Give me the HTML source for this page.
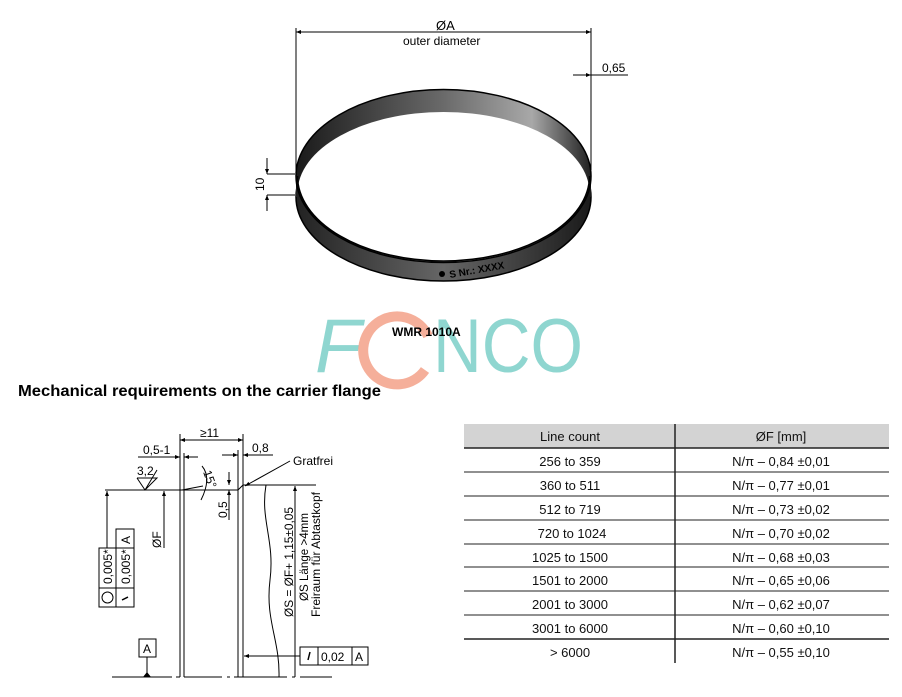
<!DOCTYPE html>
<html><head><meta charset="utf-8"><style>
body{margin:0;background:#fff;width:902px;height:692px;overflow:hidden;font-family:"Liberation Sans",sans-serif}
</style></head><body>
<svg width="902" height="692" viewBox="0 0 902 692" xmlns="http://www.w3.org/2000/svg" font-family="Liberation Sans, sans-serif">
<defs>
<linearGradient id="g" x1="0" x2="1" y1="0" y2="0">
<stop offset="0" stop-color="#1a1a1a"/><stop offset="0.5" stop-color="#6a6a6a"/><stop offset="0.8" stop-color="#a8a8a8"/><stop offset="1" stop-color="#202020"/></linearGradient>
<linearGradient id="g2" x1="0" x2="1" y1="0" y2="0">
<stop offset="0" stop-color="#222"/><stop offset="0.5" stop-color="#666"/><stop offset="1" stop-color="#1a1a1a"/></linearGradient>
<clipPath id="ct"><ellipse cx="443.5" cy="176" rx="146" ry="85"/></clipPath>
<marker id="a" viewBox="0 0 10 10" refX="10" refY="5" markerWidth="7" markerHeight="5" orient="auto-start-reverse"><path d="M0,1 L10,5 L0,9 z" fill="#000"/></marker>
</defs>
<!-- ring -->
<ellipse cx="443.5" cy="197" rx="147.5" ry="84" fill="url(#g2)" stroke="#000" stroke-width="1.5"/>
<rect x="296" y="176" width="295" height="21" fill="url(#g2)"/>
<ellipse cx="443.5" cy="176" rx="147.5" ry="86.5" fill="url(#g)" stroke="#000" stroke-width="1.5"/>
<ellipse cx="443.5" cy="193" rx="146" ry="81" fill="#fff" clip-path="url(#ct)"/>
<path d="M297.5,176 A146,85 0 0 0 589.5,176" fill="none" stroke="#000" stroke-width="1.5"/>
<circle cx="442" cy="274" r="3" fill="#000"/>
<text x="450" y="278" font-size="10" font-weight="bold" fill="#000" transform="rotate(-10 450 278)">S Nr.: XXXX</text>
<!-- ring dims -->
<g stroke="#000" stroke-width="1" fill="none">
<line x1="296" y1="28" x2="296" y2="178"/><line x1="591" y1="28" x2="591" y2="170"/>
<line x1="296" y1="32" x2="591" y2="32" marker-start="url(#a)" marker-end="url(#a)"/>
<line x1="573" y1="75" x2="591" y2="75" marker-end="url(#a)"/><line x1="591" y1="75" x2="628" y2="75"/>
<line x1="267" y1="174" x2="295" y2="174"/><line x1="267" y1="195" x2="295" y2="195"/>
<line x1="267" y1="158" x2="267" y2="174" marker-end="url(#a)"/><line x1="267" y1="211" x2="267" y2="195" marker-end="url(#a)"/>
</g>
<text x="436" y="30" font-size="13">ØA</text>
<text x="403" y="45" font-size="12">outer diameter</text>
<text x="602" y="72" font-size="12">0,65</text>
<text x="264" y="191" font-size="12" transform="rotate(-90 264 191)">10</text>
<!-- watermark -->
<g font-size="76" fill="#8fd6d0" font-family="Liberation Sans, sans-serif">
<text x="315" y="372" font-style="italic">F</text>
<text x="433" y="372" textLength="150" lengthAdjust="spacingAndGlyphs">NCO</text>
</g>
<path d="M428,336 A34,34 0 1 0 425,370" fill="none" stroke="#f4a68f" stroke-width="10" opacity="0.9"/>
<text x="392" y="336" font-size="12" font-weight="bold">WMR 1010A</text>
<text x="18" y="396" font-size="16" font-weight="bold" textLength="363" lengthAdjust="spacingAndGlyphs">Mechanical requirements on the carrier flange</text>
<!-- table -->
<rect x="464" y="424" width="425" height="24" fill="#d3d3d3"/>
<g stroke="#222" stroke-width="1">
<line x1="464" y1="448" x2="889" y2="448" stroke-width="1.5"/>
<line x1="464" y1="472" x2="889" y2="472"/><line x1="464" y1="496" x2="889" y2="496"/><line x1="464" y1="520" x2="889" y2="520"/><line x1="464" y1="544" x2="889" y2="544"/><line x1="464" y1="567" x2="889" y2="567"/><line x1="464" y1="591" x2="889" y2="591"/><line x1="464" y1="615" x2="889" y2="615"/><line x1="464" y1="639" x2="889" y2="639" stroke-width="1.5"/>
<line x1="675" y1="424" x2="675" y2="663" stroke-width="1.5"/>
</g>
<g font-size="13" text-anchor="middle" fill="#111">
<text x="570" y="441">Line count</text><text x="781" y="441">ØF [mm]</text>
<text x="570" y="466">256 to 359</text><text x="781" y="466">N/π – 0,84 ±0,01</text>
<text x="570" y="490">360 to 511</text><text x="781" y="490">N/π – 0,77 ±0,01</text>
<text x="570" y="514">512 to 719</text><text x="781" y="514">N/π – 0,73 ±0,02</text>
<text x="572" y="538">720 to 1024</text><text x="781" y="538">N/π – 0,70 ±0,02</text>
<text x="570" y="562">1025 to 1500</text><text x="781" y="562">N/π – 0,68 ±0,03</text>
<text x="570" y="585">1501 to 2000</text><text x="781" y="585">N/π – 0,65 ±0,06</text>
<text x="570" y="609">2001 to 3000</text><text x="781" y="609">N/π – 0,62 ±0,07</text>
<text x="570" y="633">3001 to 6000</text><text x="781" y="633">N/π – 0,60 ±0,10</text>
<text x="570" y="657">&gt; 6000</text><text x="781" y="657">N/π – 0,55 ±0,10</text>
</g>
<!-- flange drawing -->
<g stroke="#000" stroke-width="1" fill="none">
<line x1="180" y1="434" x2="180" y2="677"/><line x1="184" y1="453" x2="184" y2="677"/>
<line x1="238" y1="450" x2="238" y2="677"/><line x1="243" y1="434" x2="243" y2="677"/>
<line x1="180" y1="440" x2="243" y2="440" marker-start="url(#a)" marker-end="url(#a)"/>
<line x1="138" y1="457" x2="180" y2="457" marker-end="url(#a)"/><line x1="198" y1="457" x2="184" y2="457" marker-end="url(#a)"/>
<line x1="222" y1="455" x2="238" y2="455" marker-end="url(#a)"/><line x1="273" y1="455" x2="243" y2="455" marker-end="url(#a)"/>
<line x1="105" y1="490" x2="238" y2="490"/><line x1="182" y1="490" x2="203" y2="486"/>
<path d="M238,490 L243,485 L316,485"/>
<line x1="290" y1="461" x2="245" y2="486" marker-end="url(#a)"/>
<path d="M137,478 L157,478 L145,490 L137,478 M145,490 L157,470"/>
<path d="M202,466 Q212,478 201,500" />
<line x1="229" y1="472" x2="229" y2="485" marker-end="url(#a)"/><line x1="229" y1="520" x2="229" y2="490" marker-end="url(#a)"/>
<line x1="222" y1="490" x2="238" y2="490"/>
<path d="M266,485 C260,520 275,540 270,580 C265,620 280,640 279,677"/>
<line x1="295" y1="677" x2="295" y2="486" marker-end="url(#a)"/>
<line x1="164" y1="548" x2="164" y2="491" marker-end="url(#a)"/>
<line x1="107" y1="548" x2="107" y2="491" marker-end="url(#a)"/>
<rect x="99" y="548" width="35" height="59"/><rect x="116" y="529" width="18" height="19"/>
<line x1="116" y1="548" x2="116" y2="607"/><line x1="99" y1="588" x2="134" y2="588"/>
<circle cx="107.5" cy="597.5" r="5.5"/>
<line x1="122" y1="600" x2="128" y2="597" stroke-width="1.5"/>
<rect x="139" y="639" width="17" height="18"/><line x1="147" y1="657" x2="147" y2="677"/>
<path d="M112,677 H172 M176,677 H180 M184,677 H222 M227,677 H230 M234,677 H287 M292,677 H295 M300,677 H332"/>
<rect x="300" y="647" width="68" height="18"/><line x1="318" y1="647" x2="318" y2="665"/><line x1="352" y1="647" x2="352" y2="665"/>
<line x1="300" y1="656" x2="244" y2="656" marker-end="url(#a)"/>
<line x1="308" y1="660" x2="310" y2="652" stroke-width="1.5"/>
</g>
<path d="M143,677 L151,677 L147,672 z" fill="#000"/>
<g font-size="12" fill="#000">
<text x="200" y="437">≥11</text>
<text x="143" y="454">0,5-1</text>
<text x="252" y="452">0,8</text>
<text x="293" y="465">Gratfrei</text>
<text x="137" y="475">3,2</text>
<text x="203" y="472" transform="rotate(70 203 472)">15°</text>
<text x="227" y="518" transform="rotate(-90 227 518)">0,5</text>
<text x="161" y="548" transform="rotate(-90 161 548)">ØF</text>
<text x="293" y="617" transform="rotate(-90 293 617)" textLength="110" lengthAdjust="spacingAndGlyphs">ØS = ØF+ 1,15±0,05</text>
<text x="308" y="601" transform="rotate(-90 308 601)" textLength="88" lengthAdjust="spacingAndGlyphs">ØS Länge &gt;4mm</text>
<text x="320" y="617" transform="rotate(-90 320 617)" textLength="125" lengthAdjust="spacingAndGlyphs">Freiraum für Abtastkopf</text>
<text x="112" y="584" transform="rotate(-90 112 584)">0,005*</text>
<text x="130" y="584" transform="rotate(-90 130 584)">0,005*</text>
<text x="130" y="544" transform="rotate(-90 130 544)">A</text>
<text x="143" y="653">A</text>
<text x="321" y="661">0,02</text>
<text x="355" y="661">A</text>
</g>
</svg>
</body></html>
